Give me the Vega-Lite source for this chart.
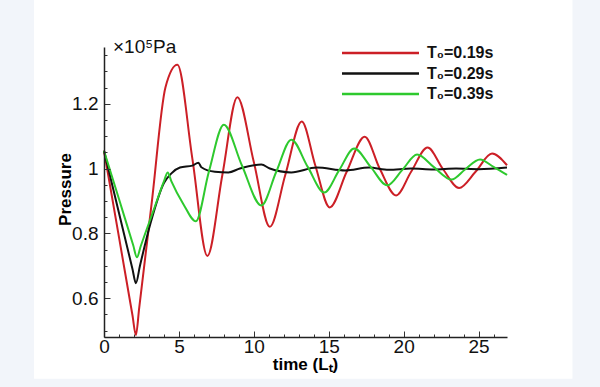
{
  "$schema": "https://vega.github.io/schema/vega-lite/v6.json",
  "width": 403,
  "height": 290,
  "autosize": {"type": "none"},
  "padding": {"left": 104, "top": 47, "right": 93, "bottom": 50},
  "background": "#f2f5fa",
  "config": {
    "view": {"stroke": null},
    "font": "Liberation Sans",
    "axis": {"zindex": 2, "domainColor": "#222", "domainWidth": 1.5, "tickColor": "#333", "tickWidth": 1, "grid": false, "labelColor": "#111", "titleColor": "#000"}
  },
  "resolve": {"axis": {"x": "independent", "y": "independent"}},
  "datasets": {
    "curves": [
      {"series": "T₀=0.19s", "t": 0, "p": 1.055},
      {"series": "T₀=0.19s", "t": 1.0, "p": 0.788},
      {"series": "T₀=0.19s", "t": 1.9, "p": 0.547},
      {"series": "T₀=0.19s", "t": 2.13, "p": 0.486},
      {"series": "T₀=0.19s", "t": 2.35, "p": 0.57},
      {"series": "T₀=0.19s", "t": 3.2, "p": 0.90},
      {"series": "T₀=0.19s", "t": 4.1, "p": 1.25},
      {"series": "T₀=0.19s", "t": 4.9, "p": 1.32},
      {"series": "T₀=0.19s", "t": 5.9, "p": 1.03},
      {"series": "T₀=0.19s", "t": 6.9, "p": 0.73},
      {"series": "T₀=0.19s", "t": 7.9, "p": 0.98},
      {"series": "T₀=0.19s", "t": 8.9, "p": 1.22},
      {"series": "T₀=0.19s", "t": 10.0, "p": 1.02},
      {"series": "T₀=0.19s", "t": 11.07, "p": 0.82},
      {"series": "T₀=0.19s", "t": 12.1, "p": 0.98},
      {"series": "T₀=0.19s", "t": 13.2, "p": 1.145},
      {"series": "T₀=0.19s", "t": 14.1, "p": 1.01},
      {"series": "T₀=0.19s", "t": 15.07, "p": 0.88},
      {"series": "T₀=0.19s", "t": 16.2, "p": 0.99},
      {"series": "T₀=0.19s", "t": 17.4, "p": 1.098},
      {"series": "T₀=0.19s", "t": 18.4, "p": 1.0},
      {"series": "T₀=0.19s", "t": 19.5, "p": 0.917},
      {"series": "T₀=0.19s", "t": 20.5, "p": 0.99},
      {"series": "T₀=0.19s", "t": 21.6, "p": 1.065},
      {"series": "T₀=0.19s", "t": 22.6, "p": 1.0},
      {"series": "T₀=0.19s", "t": 23.7, "p": 0.94},
      {"series": "T₀=0.19s", "t": 24.8, "p": 0.99},
      {"series": "T₀=0.19s", "t": 25.9, "p": 1.046},
      {"series": "T₀=0.19s", "t": 26.9, "p": 1.01},

      {"series": "T₀=0.29s", "t": 0, "p": 1.055},
      {"series": "T₀=0.29s", "t": 1.0, "p": 0.863},
      {"series": "T₀=0.29s", "t": 1.9, "p": 0.69},
      {"series": "T₀=0.29s", "t": 2.13, "p": 0.646},
      {"series": "T₀=0.29s", "t": 2.4, "p": 0.70},
      {"series": "T₀=0.29s", "t": 3.1, "p": 0.83},
      {"series": "T₀=0.29s", "t": 4.0, "p": 0.955},
      {"series": "T₀=0.29s", "t": 4.5, "p": 0.985},
      {"series": "T₀=0.29s", "t": 5.07, "p": 1.003},
      {"series": "T₀=0.29s", "t": 5.9, "p": 1.009},
      {"series": "T₀=0.29s", "t": 6.3, "p": 1.018},
      {"series": "T₀=0.29s", "t": 6.5, "p": 1.004},
      {"series": "T₀=0.29s", "t": 7.4, "p": 0.99},
      {"series": "T₀=0.29s", "t": 8.3, "p": 0.988},
      {"series": "T₀=0.29s", "t": 9.07, "p": 1.0},
      {"series": "T₀=0.29s", "t": 10.5, "p": 1.012},
      {"series": "T₀=0.29s", "t": 11.07, "p": 1.0},
      {"series": "T₀=0.29s", "t": 12.5, "p": 0.988},
      {"series": "T₀=0.29s", "t": 14.2, "p": 1.003},
      {"series": "T₀=0.29s", "t": 16.1, "p": 0.994},
      {"series": "T₀=0.29s", "t": 17.7, "p": 1.003},
      {"series": "T₀=0.29s", "t": 19.0, "p": 0.996},
      {"series": "T₀=0.29s", "t": 20.5, "p": 1.0},
      {"series": "T₀=0.29s", "t": 22.0, "p": 0.997},
      {"series": "T₀=0.29s", "t": 23.5, "p": 1.0},
      {"series": "T₀=0.29s", "t": 25.0, "p": 0.998},
      {"series": "T₀=0.29s", "t": 26.9, "p": 1.003},

      {"series": "T₀=0.39s", "t": 0, "p": 1.055},
      {"series": "T₀=0.39s", "t": 1.0, "p": 0.906},
      {"series": "T₀=0.39s", "t": 1.95, "p": 0.763},
      {"series": "T₀=0.39s", "t": 2.2, "p": 0.726},
      {"series": "T₀=0.39s", "t": 2.45, "p": 0.76},
      {"series": "T₀=0.39s", "t": 3.3, "p": 0.87},
      {"series": "T₀=0.39s", "t": 4.0, "p": 0.96},
      {"series": "T₀=0.39s", "t": 4.25, "p": 0.988},
      {"series": "T₀=0.39s", "t": 4.5, "p": 0.96},
      {"series": "T₀=0.39s", "t": 5.3, "p": 0.89},
      {"series": "T₀=0.39s", "t": 6.13, "p": 0.837},
      {"series": "T₀=0.39s", "t": 7.0, "p": 0.99},
      {"series": "T₀=0.39s", "t": 8.0, "p": 1.135},
      {"series": "T₀=0.39s", "t": 9.2, "p": 1.01},
      {"series": "T₀=0.39s", "t": 10.5, "p": 0.886},
      {"series": "T₀=0.39s", "t": 11.5, "p": 0.99},
      {"series": "T₀=0.39s", "t": 12.5, "p": 1.089},
      {"series": "T₀=0.39s", "t": 13.6, "p": 1.005},
      {"series": "T₀=0.39s", "t": 14.7, "p": 0.926},
      {"series": "T₀=0.39s", "t": 15.7, "p": 0.995},
      {"series": "T₀=0.39s", "t": 16.7, "p": 1.062},
      {"series": "T₀=0.39s", "t": 17.8, "p": 1.005},
      {"series": "T₀=0.39s", "t": 18.9, "p": 0.948},
      {"series": "T₀=0.39s", "t": 19.9, "p": 0.995},
      {"series": "T₀=0.39s", "t": 20.9, "p": 1.043},
      {"series": "T₀=0.39s", "t": 22.0, "p": 1.005},
      {"series": "T₀=0.39s", "t": 23.2, "p": 0.966},
      {"series": "T₀=0.39s", "t": 24.1, "p": 0.997},
      {"series": "T₀=0.39s", "t": 25.1, "p": 1.028},
      {"series": "T₀=0.39s", "t": 26.0, "p": 1.005},
      {"series": "T₀=0.39s", "t": 26.9, "p": 0.98}
    ]
  },
  "layer": [
    {
      "data": {"values": [{}]},
      "mark": {"type": "rect", "color": "white", "clip": false},
      "encoding": {
        "x": {"datum": -4.67, "type": "quantitative", "scale": {"domain": [0, 26.9], "nice": false, "zero": false}, "axis": null},
        "x2": {"datum": 31.27},
        "y": {"datum": 1.52, "type": "quantitative", "scale": {"domain": [0.48, 1.375], "nice": false, "zero": false}, "axis": null},
        "y2": {"datum": 0.351}
      }
    },
    {
      "data": {"name": "curves"},
      "mark": {"type": "line", "interpolate": "monotone", "strokeWidth": 2, "strokeOpacity": 0},
      "encoding": {
        "x": {"field": "t", "type": "quantitative",
          "axis": {"zindex": 2, "orient": "bottom", "title": null, "domain": false, "labels": false, "tickSize": -3,
            "values": [1,2,3,4,6,7,8,9,11,12,13,14,16,17,18,19,21,22,23,24,26]}},
        "y": {"field": "p", "type": "quantitative",
          "axis": {"zindex": 2, "orient": "left", "title": null, "domain": false, "labels": false, "tickSize": -3,
            "values": [0.5,0.55,0.65,0.7,0.75,0.85,0.9,0.95,1.05,1.1,1.15,1.25,1.3,1.35]}},
        "detail": {"field": "series"}
      }
    },
    {
      "data": {"name": "curves"},
      "mark": {"type": "line", "interpolate": "monotone", "strokeWidth": 2, "strokeOpacity": 0},
      "encoding": {
        "x": {"field": "t", "type": "quantitative",
          "axis": {"zindex": 2, "orient": "bottom", "title": null, "domain": true, "labels": false, "tickSize": -6,
            "values": [0,5,10,15,20,25]}},
        "y": {"field": "p", "type": "quantitative",
          "axis": {"zindex": 2, "orient": "left", "title": null, "domain": true, "labels": false, "tickSize": -6,
            "values": [0.6,0.8,1,1.2]}},
        "detail": {"field": "series"}
      }
    },
    {
      "data": {"name": "curves"},
      "mark": {"type": "line", "interpolate": "monotone", "strokeWidth": 2},
      "encoding": {
        "x": {"field": "t", "type": "quantitative",
          "axis": {
            "zindex": 2,
            "orient": "bottom",
            "domain": false, "ticks": false, "tickSize": 0,
            "title": "time (Lₜ)",
            "titleFontSize": 17, "titleFontWeight": "bold",
            "titleX": 201, "titleY": 32, "titleBaseline": "alphabetic", "titleAlign": "center",
            "values": [0,5,10,15,20,25],
            "format": "d",
            "labelFontSize": 19, "labelPadding": 0, "labelFlush": false, "labelOverlap": false
          }},
        "y": {"field": "p", "type": "quantitative",
          "axis": {
            "zindex": 2,
            "orient": "left",
            "domain": false, "ticks": false, "tickSize": 0,
            "title": "Pressure",
            "titleFontSize": 17, "titleFontWeight": "bold",
            "titleX": -39, "titleY": 142, "titleBaseline": "middle", "titleAlign": "center", "titleAngle": -90,
            "values": [0.6,0.8,1,1.2],
            "format": "~g",
            "labelFontSize": 19, "labelPadding": 6, "labelOverlap": false
          }},
        "color": {
          "field": "series", "type": "nominal",
          "scale": {"domain": ["T₀=0.19s", "T₀=0.29s", "T₀=0.39s"], "range": ["#cc1f26", "#111111", "#2ec92e"]},
          "legend": {
            "title": null, "orient": "none", "legendX": 235, "legendY": -2,
            "symbolType": "M-1,0H14.4", "symbolSize": 100, "symbolStrokeWidth": 2.5,
            "labelFontSize": 16, "labelFontWeight": "bold", "labelColor": "#111", "labelOffset": 72,
            "rowPadding": 4.5, "padding": 0
          }
        }
      }
    },
    {
      "data": {"values": [{}]},
      "mark": {"type": "text", "text": "×10⁵Pa", "align": "left", "baseline": "alphabetic", "fontSize": 19, "color": "#111"},
      "encoding": {
        "x": {"datum": 0.6, "type": "quantitative", "axis": null},
        "y": {"datum": 1.357, "type": "quantitative", "axis": null}
      }
    }
  ]
}
